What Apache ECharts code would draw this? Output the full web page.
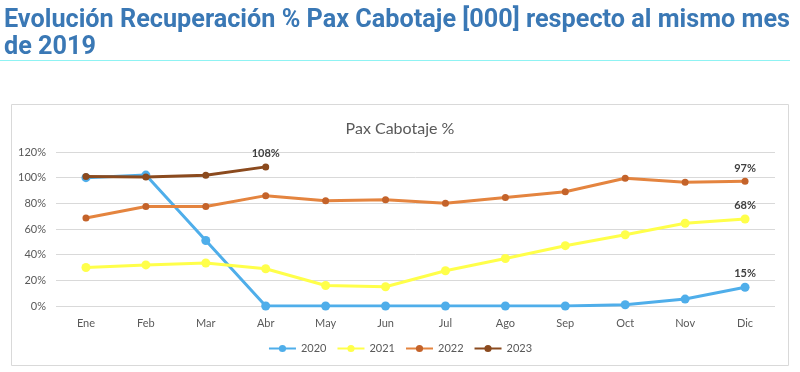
<!DOCTYPE html>
<html><head><meta charset="utf-8">
<script src="https://cdn.jsdelivr.net/npm/echarts@6/dist/echarts.min.js"></script>
<style>html,body{margin:0;padding:0;background:#fff}#c{width:800px;height:372px}</style>
</head><body><div id="c"></div>
<script>
const months = ['Ene','Feb','Mar','Abr','May','Jun','Jul','Ago','Sep','Oct','Nov','Dic'];
const yTicks = [0,20,40,60,80,100,120];
const s2020 = [100,102,51,0,0,0,0,0,0,1,5.4,14.6];
const s2021 = [30,32,33.5,29,16,15,27.5,37,47,55.5,64.5,67.8];
const s2022 = [68.5,77.5,77.5,86,82,82.8,80,84.5,89,99.5,96.5,97.2];
const s2023 = [101,100.5,101.8,108.4];
const names = ['2020','2021','2022','2023'];
const labelIdx = [11,11,11,3];
const labelText = ['15%','68%','97%','108%'];
const titleLine1 = 'Evolución Recuperación % Pax Cabotaje [000] respecto al mismo mes';
const titleLine2 = 'de 2019';

const titleFont = 'bold 25px Roboto';
const cv = document.createElement('canvas').getContext('2d');
cv.font = titleFont;
const w1 = cv.measureText(titleLine1).width;
const sx = 786 / w1;

const chart = echarts.init(document.getElementById('c'));
const lineColors = ['#4FAEEA','#FFFF4A','#E4843F','#8B4A1E'];
const markColors = ['#4FAEEA','#FFFF4A','#C4632A','#8B4A1E'];
const symSizes = [9,9,7,7];
const datas = [s2020,s2021,s2022,s2023];
const series = datas.map((d,i)=>({
  name: names[i], type:'line', data: d.map((v,j)=> j===labelIdx[i] ? {value:v, label:{show:true, formatter:labelText[i]}} : v),
  symbol:'circle', symbolSize:symSizes[i], z: i===0?5:(10-i),
  lineStyle:{color:lineColors[i], width:3},
  itemStyle:{color:markColors[i], borderWidth:0},
  label:{show:false, position:'top', distance:4, color:'#404040', fontWeight:'bold', fontSize:11, fontFamily:'Lato'},
  emphasis:{disabled:true}
}));
chart.setOption({
  animation:false,
  textStyle:{fontFamily:'Lato'},
  graphic:[
    {type:'text', x:4, y:8, scaleX:sx, style:{text:titleLine1, font:titleFont, fill:'#3A78B5'}},
    {type:'text', x:4, y:35, scaleX:sx, style:{text:titleLine2, font:titleFont, fill:'#3A78B5'}},
    {type:'line', shape:{x1:0,y1:60.5,x2:790,y2:60.5}, style:{stroke:'#8FF3F3', lineWidth:1}},
    {type:'rect', shape:{x:11.5,y:104.5,width:777,height:261}, style:{fill:'none', stroke:'#D9D9D9', lineWidth:1}}
  ],
  title:{text:'Pax Cabotaje %', left:'center', top:116, textStyle:{fontFamily:'Lato', fontWeight:'normal', fontSize:16, color:'#595959'}},
  legend:{data:names, bottom:13, left:'center', itemWidth:27, itemHeight:9, itemGap:10,
    textStyle:{color:'#595959', fontSize:11, fontFamily:'Lato'}},
  grid:{left:56, right:25, top:152, bottom:66},
  xAxis:{type:'category', data:months, boundaryGap:true,
    axisLine:{show:false}, axisTick:{show:false},
    axisLabel:{color:'#595959', fontSize:11, margin:12}},
  yAxis:{type:'value', min:0, max:120, interval:20,
    axisLabel:{color:'#595959', fontSize:11, formatter:v=>v+'%', margin:10},
    splitLine:{lineStyle:{color:'#D9D9D9', width:1}},
    axisLine:{show:false}, axisTick:{show:false}},
  series
});
</script></body></html>
